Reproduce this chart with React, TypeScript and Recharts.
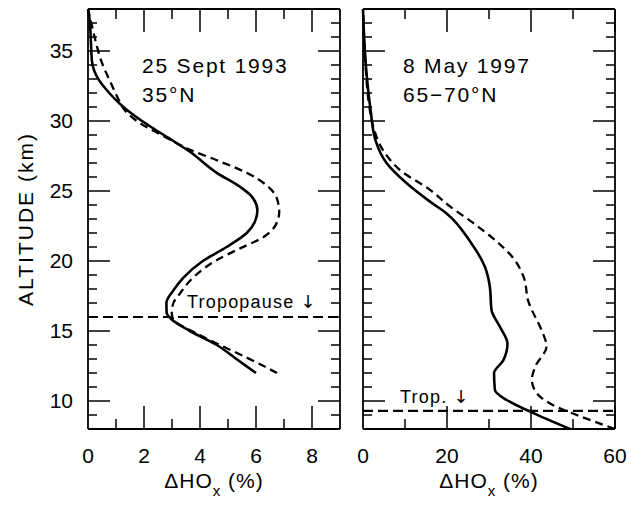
import React from 'react';
import { LineChart, Line, XAxis, YAxis, ReferenceLine } from 'recharts';

// left panel: 25 Sept 1993, 35°N  (altitude km -> ΔHOx %)
const sept93SolidAlt = [12, 13, 14, 15, 15.8, 16.3, 17, 17.9, 18.8, 20, 21, 22, 22.8, 23.6, 24.6, 25.3, 26.3, 27.8, 28.76, 29.5, 30.3, 31.26, 32, 32.9, 33.6, 34.3, 35.8, 37.2, 38];
const sept93Solid = [6.0, 5.3, 4.6, 3.64, 3.0, 2.81, 2.8, 3.05, 3.4, 4.1, 4.95, 5.67, 5.96, 6.05, 5.85, 5.43, 4.6, 3.64, 2.9, 2.31, 1.71, 1.12, 0.76, 0.4, 0.22, 0.14, 0.1, 0.06, 0];
const sept93DashAlt = [12, 13.1, 14, 14.95, 15.8, 16.3, 17, 17.7, 18.9, 20.07, 20.9, 21.7, 22.6, 23.5, 24.5, 25.4, 26.3, 27.2, 27.9, 29, 30, 30.9, 31.5, 32.7, 34.36, 35.4, 36.9, 38];
const sept93Dash = [6.75, 5.67, 4.71, 3.76, 3.05, 2.99, 3.05, 3.29, 3.8, 4.6, 5.43, 6.26, 6.71, 6.83, 6.74, 6.38, 5.67, 4.6, 3.7, 2.63, 1.74, 1.26, 1.1, 0.82, 0.46, 0.31, 0.13, 0];
const sept93Trop = 16;

// right panel: 8 May 1997, 65-70°N
const may97SolidAlt = [8, 9.24, 10.07, 10.8, 12, 12.9, 14.1, 15.3, 16.5, 18.16, 19.6, 21.4, 23.4, 24.24, 25.55, 27, 28.6, 30.8, 33.9, 38];
const may97Solid = [49.3, 39.8, 34.2, 31.4, 31.2, 33.4, 34.4, 32.6, 30.6, 30.2, 29.0, 25.5, 19.9, 15.95, 10.4, 5.6, 3.0, 1.8, 0.7, 0];
const may97DashAlt = [8, 9, 9.47, 10.55, 11.5, 12.45, 13.9, 15.07, 16.5, 17, 18.9, 20.2, 21.4, 22.7, 23.9, 25.08, 26.5, 27.9, 29.6, 31.5, 34, 38];
const may97Dash = [60, 50.9, 46.9, 41.4, 40.2, 41.0, 43.7, 42.5, 40.2, 39.5, 38.2, 35.8, 31.8, 26.3, 20.7, 15.95, 8.8, 4.8, 2.45, 1.3, 0.6, 0];
const may97Trop = 9.3;

const altTicks = [9, 10, 11, 12, 13, 14, 15, 16, 17, 18, 19, 20, 21, 22, 23, 24, 25, 26, 27, 28, 29, 30, 31, 32, 33, 34, 35, 36, 37];
const leftXTicks = [1, 2, 3, 4, 5, 6, 7, 8];
const rightXTicks = [10, 20, 30, 40, 50, 60];
const leftXLabels = [0, 2, 4, 6, 8];
const rightXLabels = [0, 20, 40, 60];

const ALT_MIN = 8;
const ALT_MAX = 38;
const FONT = '"Liberation Sans", Arial, sans-serif';

// plot box shared by both panels (follows from chart sizes / margins below)
const PLOT_TOP = 9;
const PLOT_H = 420;
const PLOT_W = 252;
const LEFT_X0 = 88;
const RIGHT_X0 = 345 + 18;

const rows = (alt: number[], val: number[]) => alt.map((a, i) => ({ alt: a, v: val[i] }));

const xLabel = (p: any) => (
  <text x={p.x} y={Number(p.y) + 34} textAnchor="middle" fontSize={21} fontFamily={FONT} fill="#000">
    {p.payload.value}
  </text>
);

// left ticks point inward; labels on the major ones
const yTick = (labels: boolean) => (p: any) => {
  const v = p.payload.value;
  const isMajor = v % 5 === 0;
  const len = isMajor ? 22 : 9;
  const x = Number(p.x);
  const y = Number(p.y);
  return (
    <g>
      <line x1={x} x2={x + len} y1={y} y2={y} stroke="#000" strokeWidth={1.5} />
      {labels && isMajor && (
        <text x={x - 15} y={y + 7} textAnchor="end" fontSize={21} fontFamily={FONT} fill="#000">
          {v}
        </text>
      )}
    </g>
  );
};

interface PanelProps {
  width: number;
  yWidth: number;
  marginRight: number;
  xMax: number;
  xLabels: number[];
  yLabels: boolean;
  solid: { alt: number; v: number }[];
  dashed: { alt: number; v: number }[];
  trop: number;
}

const frame = { stroke: '#000', strokeWidth: 1.8 };

const Panel: React.FC<PanelProps> = (p) => (
  <LineChart
    width={p.width}
    height={505}
    layout="vertical"
    margin={{ top: 8, right: p.marginRight, bottom: 0, left: 0 }}
  >
    <XAxis
      type="number"
      domain={[0, p.xMax]}
      ticks={p.xLabels}
      interval={0}
      height={76}
      tickSize={0}
      tickMargin={0}
      tickLine={false}
      axisLine={frame}
      tick={xLabel}
    />
    <YAxis
      type="number"
      dataKey="alt"
      domain={[ALT_MIN, ALT_MAX]}
      reversed
      ticks={altTicks}
      interval={0}
      width={p.yWidth}
      tickSize={0}
      tickMargin={0}
      tickLine={false}
      axisLine={frame}
      tick={yTick(p.yLabels)}
    />
    <XAxis xAxisId="t" orientation="top" type="number" domain={[0, p.xMax]} height={1} tick={false} tickLine={false} axisLine={frame} />
    <YAxis yAxisId="r" orientation="right" type="number" dataKey="alt" domain={[ALT_MIN, ALT_MAX]} reversed width={1} tick={false} tickLine={false} axisLine={frame} />
    <ReferenceLine y={p.trop} stroke="#000" strokeWidth={2.2} strokeDasharray="10 5" />
    <Line
      xAxisId="t"
      yAxisId="r"
      data={p.dashed}
      dataKey="v"
      type="monotone"
      stroke="#000"
      strokeWidth={2.3}
      strokeDasharray="8 5"
      dot={false}
      activeDot={false}
      isAnimationActive={false}
    />
    <Line
      data={p.solid}
      dataKey="v"
      type="monotone"
      stroke="#000"
      strokeWidth={2.6}
      dot={false}
      activeDot={false}
      isAnimationActive={false}
    />
  </LineChart>
);

// inward tick marks on the bottom, top and right frames of one panel
const FrameTicks: React.FC<{ x0: number; xMax: number; xTicks: number[]; xMajor: number }> = ({ x0, xMax, xTicks, xMajor }) => {
  const sx = (v: number) => x0 + (v / xMax) * PLOT_W;
  const sy = (a: number) => PLOT_TOP + ((ALT_MAX - a) / (ALT_MAX - ALT_MIN)) * PLOT_H;
  const bottom = PLOT_TOP + PLOT_H;
  const right = x0 + PLOT_W;
  let d = '';
  xTicks.forEach((v) => {
    const len = v % xMajor === 0 ? 23 : 10;
    const x = sx(v);
    d += `M${x},${bottom}V${bottom - len}M${x},${PLOT_TOP}V${PLOT_TOP + len}`;
  });
  altTicks.forEach((a) => {
    const len = a % 5 === 0 ? 22 : 9;
    const y = sy(a);
    d += `M${right},${y}H${right - len}`;
  });
  return <path d={d} stroke="#000" strokeWidth={1.5} fill="none" />;
};

const txt = { fontFamily: FONT, fill: '#000' };
const arrow = { fontFamily: '"DejaVu Sans", sans-serif', fill: '#000' };

const App: React.FC = () => (
  <div
    style={{
      position: 'absolute',
      left: 0,
      top: 0,
      width: 631,
      height: 505,
      background: '#fff',
      overflow: 'hidden',
    }}
  >
    <div style={{ position: 'absolute', left: 0, top: 0 }}>
      <Panel
        width={345}
        yWidth={88}
        marginRight={4}
        xMax={9}
        xLabels={leftXLabels}
        yLabels
        solid={rows(sept93SolidAlt, sept93Solid)}
        dashed={rows(sept93DashAlt, sept93Dash)}
        trop={sept93Trop}
      />
    </div>
    <div style={{ position: 'absolute', left: 345, top: 0 }}>
      <Panel
        width={286}
        yWidth={18}
        marginRight={15}
        xMax={60}
        xLabels={rightXLabels}
        yLabels={false}
        solid={rows(may97SolidAlt, may97Solid)}
        dashed={rows(may97DashAlt, may97Dash)}
        trop={may97Trop}
      />
    </div>
    <svg
      width={631}
      height={505}
      style={{ position: 'absolute', left: 0, top: 0, pointerEvents: 'none' }}
    >
      <FrameTicks x0={LEFT_X0} xMax={9} xTicks={leftXTicks} xMajor={2} />
      <FrameTicks x0={RIGHT_X0} xMax={60} xTicks={rightXTicks} xMajor={20} />
      <text x={33} y={219} transform="rotate(-90 33 219)" textAnchor="middle" fontSize={21} letterSpacing={2} {...txt}>
        ALTITUDE (km)
      </text>
      <text x={142} y={73} fontSize={21} letterSpacing={1.8} {...txt}>25 Sept 1993</text>
      <text x={142} y={102} fontSize={21} letterSpacing={1.8} {...txt}>35°N</text>
      <text x={403} y={73} fontSize={21} letterSpacing={1.8} {...txt}>8 May 1997</text>
      <text x={403} y={102} fontSize={21} letterSpacing={1.8} {...txt}>65−70°N</text>
      <text x={187} y={308} fontSize={18} letterSpacing={1.2} {...txt}>
        Tropopause <tspan {...arrow}>↓</tspan>
      </text>
      <text x={400} y={403} fontSize={18} letterSpacing={1.2} {...txt}>
        Trop. <tspan {...arrow}>↓</tspan>
      </text>
      {[214, 489].map((cx) => (
        <text key={cx} x={cx} y={488} textAnchor="middle" fontSize={21} letterSpacing={1} {...txt}>
          ΔHO
          <tspan dy={8} fontSize={15}>x</tspan>
          <tspan dy={-8}> (%)</tspan>
        </text>
      ))}
    </svg>
  </div>
);

export default App;
